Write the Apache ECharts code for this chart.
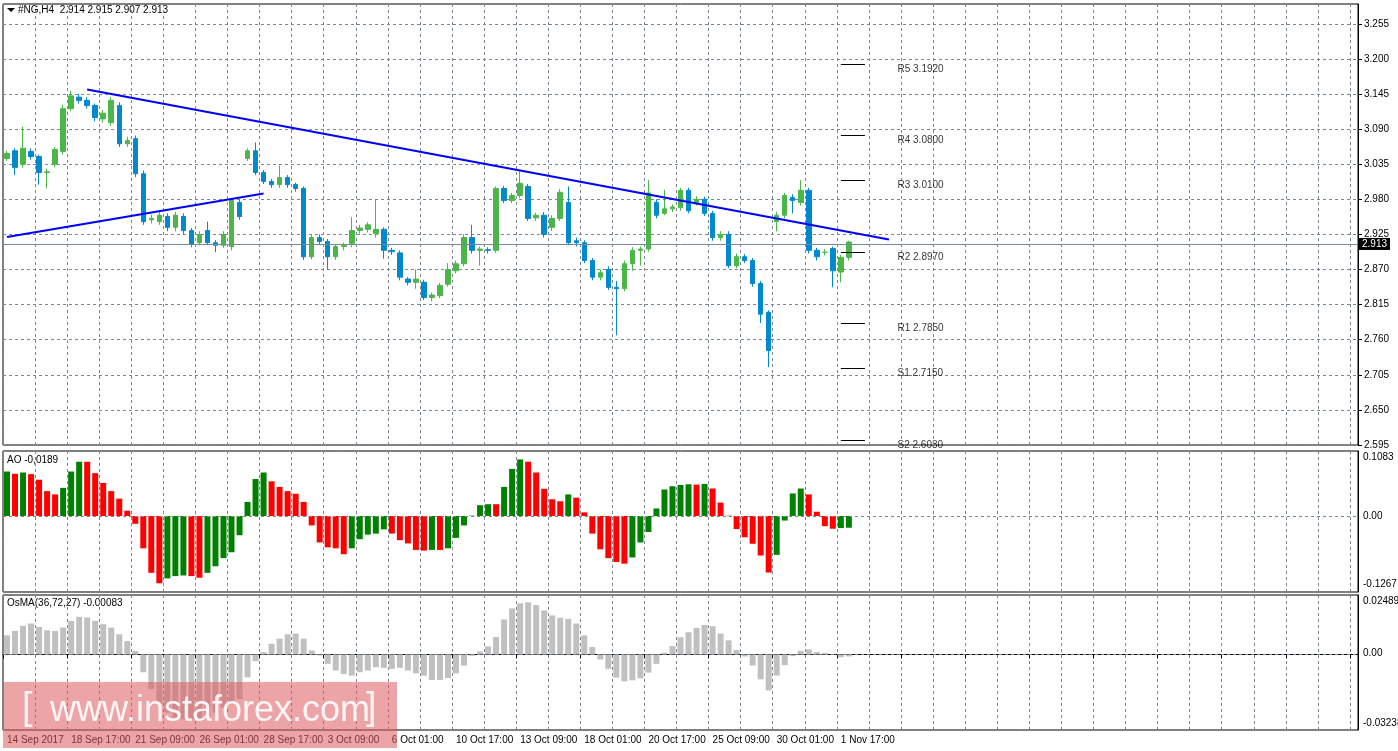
<!DOCTYPE html>
<html>
<head>
<meta charset="utf-8">
<script src="https://cdn.jsdelivr.net/npm/echarts@6/dist/echarts.min.js"></script>
<style>
html,body{margin:0;padding:0;background:#fff;}
#chart{width:1398px;height:751px;}
</style>
</head>
<body>
<div id="chart"></div>
<script>
// candles [open, close, low, high], 2 x H4 bars per candle
var candles = [
[3.044,3.052,3.040,3.056],[3.056,3.030,3.018,3.060],[3.035,3.060,3.030,3.094],[3.055,3.047,3.042,3.060],
[3.047,3.022,3.003,3.050],[3.022,3.023,2.997,3.028],[3.035,3.058,3.030,3.062],[3.055,3.122,3.050,3.128],
[3.122,3.142,3.118,3.150],[3.140,3.135,3.130,3.145],[3.135,3.127,3.122,3.140],[3.127,3.108,3.102,3.130],
[3.106,3.115,3.100,3.120],[3.100,3.135,3.095,3.140],[3.127,3.067,3.062,3.132],[3.067,3.072,3.062,3.078],
[3.075,3.020,3.015,3.080],[3.020,2.945,2.940,3.025],[2.948,2.950,2.942,2.956],[2.945,2.955,2.940,2.962],
[2.953,2.936,2.930,2.958],[2.936,2.955,2.930,2.960],[2.953,2.931,2.925,2.958],[2.931,2.910,2.905,2.935],
[2.912,2.925,2.908,2.930],[2.931,2.912,2.908,2.945],[2.912,2.908,2.897,2.916],[2.908,2.925,2.904,2.930],
[2.906,2.978,2.900,2.982],[2.975,2.953,2.948,2.980],[3.044,3.056,3.040,3.060],[3.056,3.022,3.018,3.069],
[3.022,3.008,3.004,3.026],[3.008,3.003,2.998,3.012],[3.003,3.014,2.998,3.033],[3.014,3.003,2.998,3.018],
[3.003,2.997,2.992,3.006],[2.997,2.890,2.885,3.000],[2.890,2.920,2.886,2.925],[2.920,2.914,2.910,2.925],
[2.914,2.890,2.870,2.918],[2.890,2.906,2.885,2.910],[2.906,2.908,2.900,2.912],[2.911,2.931,2.905,2.952],
[2.931,2.935,2.926,2.940],[2.933,2.940,2.928,2.944],[2.926,2.933,2.920,2.981],[2.933,2.900,2.887,2.936],
[2.900,2.898,2.893,2.904],[2.896,2.858,2.853,2.900],[2.855,2.850,2.845,2.858],[2.850,2.855,2.840,2.870],
[2.850,2.826,2.822,2.854],[2.826,2.830,2.820,2.834],[2.829,2.845,2.825,2.849],[2.847,2.870,2.843,2.880],
[2.868,2.879,2.864,2.884],[2.879,2.920,2.875,2.925],[2.920,2.900,2.895,2.940],[2.900,2.902,2.876,2.906],
[2.901,2.900,2.895,2.905],[2.900,2.997,2.896,3.000],[2.997,2.978,2.974,3.001],[2.978,2.986,2.974,2.990],
[2.986,3.005,2.982,3.025],[3.000,2.950,2.946,3.004],[2.951,2.955,2.946,2.959],[2.955,2.925,2.920,2.960],
[2.936,2.950,2.930,2.955],[2.950,2.991,2.946,2.996],[2.975,2.912,2.908,3.000],[2.915,2.912,2.906,2.920],
[2.912,2.884,2.880,2.916],[2.884,2.858,2.853,2.888],[2.858,2.865,2.853,2.870],[2.870,2.842,2.838,2.875],
[2.842,2.840,2.767,2.852],[2.840,2.879,2.836,2.884],[2.879,2.900,2.868,2.905],[2.900,2.902,2.876,2.906],
[2.902,2.990,2.898,3.010],[2.975,2.955,2.950,2.980],[2.958,2.965,2.955,2.995],[2.965,2.968,2.960,2.972],
[2.967,2.994,2.962,2.998],[2.994,2.962,2.958,2.998],[2.975,2.980,2.970,2.985],[2.980,2.958,2.954,2.984],
[2.958,2.920,2.915,2.962],[2.920,2.925,2.915,2.930],[2.925,2.876,2.872,2.930],[2.876,2.890,2.872,2.895],
[2.890,2.884,2.880,2.894],[2.884,2.848,2.843,2.888],[2.848,2.800,2.786,2.852],[2.803,2.743,2.717,2.806],
[2.945,2.955,2.930,2.960],[2.955,2.986,2.950,2.990],[2.983,2.978,2.958,2.988],[2.975,2.994,2.970,3.010],
[2.994,2.900,2.895,2.998],[2.900,2.890,2.884,2.904],[2.897,2.897,2.892,2.902],[2.903,2.868,2.842,2.906],
[2.866,2.889,2.850,2.893],[2.889,2.913,2.884,2.915]
];
var aoValues = [
0.0816,0.0774,0.0798,0.0768,0.0666,0.0456,0.0396,0.0516,0.0816,0.0996,0.0996,0.0786,0.0606,0.0456,0.0318,0.0096,
-0.0144,-0.0594,-0.1044,-0.1236,-0.1146,-0.1104,-0.1092,-0.1104,-0.1134,-0.1044,-0.0924,-0.0774,-0.0666,-0.0354,
0.0258,0.0678,0.0798,0.0636,0.0534,0.0456,0.0408,0.0258,-0.0174,-0.0486,-0.0576,-0.0594,-0.0702,-0.0594,-0.0426,
-0.0342,-0.0324,-0.0246,-0.0324,-0.0444,-0.0504,-0.0624,-0.0636,-0.0624,-0.0624,-0.0594,
-0.0402,-0.0174,0.0006,0.0198,0.0216,0.0216,0.0534,0.0864,0.1038,0.0996,0.0798,0.0498,0.0306,0.0270,0.0396,0.0336,
0.0066,-0.0324,-0.0612,-0.0774,-0.0846,-0.0876,-0.0762,-0.0486,-0.0294,0.0138,0.0486,0.0546,0.0570,0.0582,0.0576,
0.0588,0.0504,0.0246,0.0006,-0.0240,-0.0390,-0.0510,-0.0726,-0.1038,-0.0714,-0.0084,0.0414,0.0504,0.0396,0.0078,
-0.0186,-0.0234,-0.0222,-0.0216
];
var osmaValues = [
0.00893,0.01096,0.01331,0.01441,0.01284,0.01128,0.01096,0.01253,0.01566,0.01754,0.01723,0.01566,0.01410,0.01253,
0.00940,0.00626,0.00157,-0.00830,-0.01613,-0.02318,-0.02709,-0.02944,-0.03022,-0.03022,-0.03022,-0.02866,-0.02709,
-0.02474,-0.02318,-0.02083,-0.01065,-0.00313,0.00110,0.00501,0.00736,0.00940,0.00971,0.00736,0.00188,-0.00047,
-0.00438,-0.00752,-0.00908,-0.00987,-0.00830,-0.00752,-0.00595,-0.00626,-0.00673,-0.00626,-0.00752,-0.00877,
-0.00987,-0.01190,-0.01190,-0.01096,
-0.00877,-0.00517,-0.00063,0.00141,0.00376,0.00814,0.01629,0.02145,0.02380,0.02427,0.02302,0.02051,0.01817,
0.01707,0.01660,0.01441,0.00893,0.00345,-0.00235,-0.00673,-0.01081,-0.01253,-0.01206,-0.01112,-0.00846,-0.00438,
0.00078,0.00392,0.00799,0.01034,0.01237,0.01378,0.01315,0.00971,0.00658,0.00204,-0.00094,-0.00517,-0.01159,
-0.01676,-0.00987,-0.00501,-0.00078,0.00172,0.00235,0.00110,0.00063,-0.00016,-0.00125,-0.00094
];
var tickLabels = ['14 Sep 2017','18 Sep 17:00','21 Sep 09:00','26 Sep 01:00','28 Sep 17:00','3 Oct 09:00',
  '6 Oct 01:00','10 Oct 17:00','13 Oct 09:00','18 Oct 01:00','20 Oct 17:00','25 Oct 09:00','30 Oct 01:00','1 Nov 17:00'];
var pivotNames = ['R5','R4','R3','R2','R1','S1','S2'];
var pivotValues = [3.1920,3.0800,3.0100,2.8970,2.7850,2.7150,2.6030];
var lastPrice = 2.913;
var upperTrend = [[10,3.152],[110,2.917]];
var lowerTrend = [[0,2.921],[32,2.989]];

var SLOTS = 169;
var cats = [];
for(var i=0;i<SLOTS;i++){ cats.push(''); }
for(var k=0;k<tickLabels.length;k++){ cats[k*8] = tickLabels[k]; }

var font = 'Liberation Sans';
var gridColor = '#7a8694';

var aoData = aoValues.map(function(v,i){
  var up = i==0 ? true : v > aoValues[i-1];
  return {value:v, itemStyle:{color: up ? '#008000' : '#ff0000'}};
});

var pivotLines = pivotValues.map(function(v){
  return [{coord:[104.3,v]},{coord:[106.9,v]}];
});
var pivotLabels = pivotValues.map(function(v,i){
  return {value:[111,v], name: pivotNames[i] + ' ' + v.toFixed(4)};
});

function xAx(gi, show){
  return {
    type:'category', gridIndex:gi, data:cats, boundaryGap:true,
    axisLine:{show:show, lineStyle:{color:'#000'}},
    axisTick:{show:show, interval:7, length:4, lineStyle:{color:'#000'}},
    axisLabel:{show:show, interval:7, align:'left', color:'#000', fontFamily:font, fontSize:10, margin:5},
    splitLine:{show:true, interval:3, lineStyle:{color:gridColor, type:[3,3]}}
  };
}

var option = {
  animation:false,
  backgroundColor:'#fff',
  grid:[
    {left:3, right:40, top:4, height:441, show:true, borderColor:'#000', borderWidth:1},
    {left:3, right:40, top:451, height:141, show:true, borderColor:'#000', borderWidth:1},
    {left:3, right:40, top:595, height:135, show:true, borderColor:'#000', borderWidth:1}
  ],
  xAxis:[xAx(0,false), xAx(1,false), xAx(2,true)],
  yAxis:[
    {type:'value', gridIndex:0, position:'right', min:2.595, max:3.286, interval:0.055, scale:true,
     axisLine:{show:true, lineStyle:{color:'#000'}}, axisTick:{show:true, length:4, lineStyle:{color:'#000'}},
     axisLabel:{showMaxLabel:false, color:'#000', fontFamily:font, fontSize:10, margin:6, formatter:function(v){return v.toFixed(3);}},
     splitLine:{show:true, lineStyle:{color:gridColor, type:[3,3]}}},
    {type:'value', gridIndex:1, position:'right', min:-0.1396, max:0.1193,
     axisLine:{show:true, lineStyle:{color:'#000'}}, axisTick:{show:false}, axisLabel:{show:false}, splitLine:{show:false}},
    {type:'value', gridIndex:2, position:'right', min:-0.0352, max:0.0277,
     axisLine:{show:true, lineStyle:{color:'#000'}}, axisTick:{show:false}, axisLabel:{show:false}, splitLine:{show:false}}
  ],
  series:[
    {type:'candlestick', xAxisIndex:0, yAxisIndex:0, data:candles.map(function(c){return [c[0],c[1],c[2],c[3]];}),
     barWidth:5,
     itemStyle:{color:'#4cb648', color0:'#0288cc', borderColor:'#4cb648', borderColor0:'#0288cc', borderWidth:1},
     markLine:{silent:true, symbol:'none', animation:false,
       data:[
         {yAxis:lastPrice, lineStyle:{color:'#778899', type:'solid', width:1},
          label:{show:true, position:'end', formatter:lastPrice.toFixed(3), color:'#fff', backgroundColor:'#000',
                 fontFamily:font, fontSize:10, padding:[1,3,1,3], distance:1}},
         [{coord:upperTrend[0], lineStyle:{color:'#0000ff', width:2, type:'solid'}, label:{show:false}}, {coord:upperTrend[1]}],
         [{coord:lowerTrend[0], lineStyle:{color:'#0000ff', width:2, type:'solid'}, label:{show:false}}, {coord:lowerTrend[1]}]
       ]}
    },
    {type:'scatter', xAxisIndex:0, yAxisIndex:0, data:pivotLabels, symbolSize:1, itemStyle:{color:'rgba(0,0,0,0)'},
     label:{show:true, position:'right', distance:0, offset:[0,5], formatter:'{b}', color:'#000', fontFamily:font, fontSize:10},
     markLine:{silent:true, symbol:'none', label:{show:false}, lineStyle:{color:'#000', width:1, type:'solid'}, data:pivotLines}
    },
    {type:'bar', xAxisIndex:1, yAxisIndex:1, data:aoData, barWidth:6,
     markLine:{silent:true, symbol:'none', label:{show:false}, lineStyle:{color:gridColor, type:[3,3], width:1}, data:[{yAxis:0}]}},
    {type:'bar', xAxisIndex:2, yAxisIndex:2, data:osmaValues, barWidth:6, itemStyle:{color:'#c0c0c0'},
     markLine:{silent:true, symbol:'none', label:{show:false}, lineStyle:{color:gridColor, type:[3,3], width:1}, data:[{yAxis:0}]}}
  ],
  graphic:[
    {type:'polygon', shape:{points:[[7,8],[15,8],[11,12]]}, style:{fill:'#000'}},
    {type:'text', left:18, top:5, style:{text:'#NG,H4  2.914 2.915 2.907 2.913', fill:'#000', font:'10px '+font}},
    {type:'text', left:7, top:455, style:{text:'AO -0,0189', fill:'#000', font:'10px '+font}},
    {type:'text', left:7, top:598, style:{text:'OsMA(36,72,27) -0.00083', fill:'#000', font:'10px '+font}},
    {type:'text', left:1363, top:452, style:{text:'0.1083', fill:'#000', font:'10px '+font}},
    {type:'text', left:1363, top:511, style:{text:'0.00', fill:'#000', font:'10px '+font}},
    {type:'text', left:1363, top:579, style:{text:'-0.1267', fill:'#000', font:'10px '+font}},
    {type:'text', left:1363, top:596, style:{text:'0.02489', fill:'#000', font:'10px '+font}},
    {type:'text', left:1363, top:648, style:{text:'0.00', fill:'#000', font:'10px '+font}},
    {type:'text', left:1363, top:718, style:{text:'-0.03238', fill:'#000', font:'10px '+font}},
    {type:'rect', z:100, shape:{x:3, y:682, width:394, height:66}, style:{fill:'rgba(222,90,95,0.55)'}},
    {type:'text', z:101, left:22, top:690, style:{text:'[', fill:'rgba(255,255,255,0.85)', font:'38px '+font}},
    {type:'text', z:101, left:50, top:693, style:{text:'www.instaforex.com', fill:'rgba(255,255,255,0.9)', font:'36px '+font}},
    {type:'text', z:101, left:366, top:690, style:{text:']', fill:'rgba(255,255,255,0.85)', font:'38px '+font}}
  ]
};

var chart = echarts.init(document.getElementById('chart'));
chart.setOption(option);
</script>
</body>
</html>
